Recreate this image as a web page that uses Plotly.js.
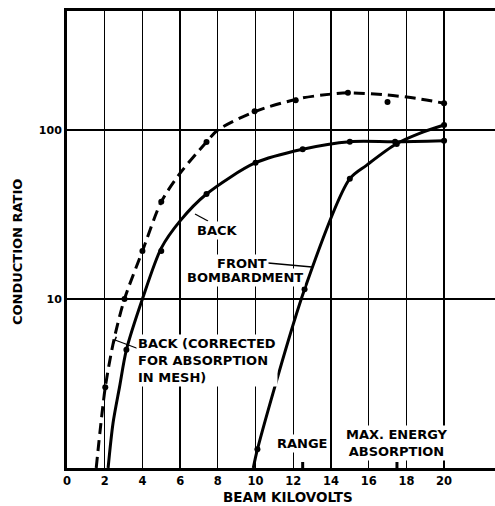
<!DOCTYPE html>
<html>
<head>
<meta charset="utf-8">
<script src="https://cdn.plot.ly/plotly-3.0.1.min.js"></script>
<style>html,body{margin:0;padding:0;background:#fff;}#chart{width:495px;height:506px;}</style>
</head>
<body>
<div id="chart"></div>
<script>
// ---- Data ----
// Back (corrected for absorption in mesh): dashed curve and measured points
const corrCurveKV    = [1.55, 2.03, 2.5, 3.05, 4.0, 5.0, 6.0, 7.4, 8.0, 10.0, 12.4, 14.0, 14.9, 17.0, 18.5, 20.0];
const corrCurveRatio = [1.0, 3.0, 5.8, 10, 19.2, 37.6, 55.5, 85, 100, 129, 154, 163, 166, 161, 154, 144];
const corrPointKV    = [2.03, 3.05, 4.0, 5.0, 7.4, 9.95, 12.13, 14.9, 17.0, 20.0];
const corrPointRatio = [3.0, 10, 19.2, 37.6, 85, 129, 150, 166, 146.5, 144];

// Back: solid curve and points
const backCurveKV    = [2.18, 2.44, 2.79, 3.15, 4.0, 5.0, 6.0, 7.4, 10.0, 12.5, 15.0, 17.4, 20.0];
const backCurveRatio = [1.0, 1.84, 3.03, 5.0, 10, 20.0, 29, 41.8, 64, 77, 85.3, 85.3, 86.5];
const backPointKV    = [3.15, 5.0, 7.4, 10.0, 12.5, 15.0, 17.4, 20.0];
const backPointRatio = [5.0, 19.2, 41.8, 64, 77, 85.3, 85.3, 86.5];

// Front bombardment: solid curve and points
const frontCurveKV    = [9.88, 10.1, 12.6, 15.0, 15.9, 17.45, 18.7, 20.0];
const frontCurveRatio = [1.0, 1.29, 11.4, 51.5, 62, 82.6, 95.6, 107];
const frontPointKV    = [10.1, 12.6, 15.0, 17.49, 20.0];
const frontPointRatio = [1.29, 11.4, 51.5, 82.6, 107];

// Axis ticks and markers on the kV axis (range, max. energy absorption)
const kvTicks = [0, 2, 4, 6, 8, 10, 12, 14, 16, 18, 20];
const ratioTicks = [10, 100];
const ratioTickText = ['10', '100'];
const axisMarkKV = [12.5, 17.5];

// ---- Layout helpers (pixel -> paper) ----
const L = 67, R = 0, T = 11, B = 38, W = 495, H = 506;
const PW = W - L - R, PH = H - T - B;
const px = v => (v - L) / PW;
const py = v => (H - B - v) / PH;

const FONT = 'DejaVu Sans';
const ink = '#000';

function curve(x, y, dash) {
  return {x: x, y: y, mode: 'lines', type: 'scatter', hoverinfo: 'skip',
    line: {color: ink, width: 3, shape: 'spline', smoothing: 0.8, dash: dash || 'solid'}};
}
function points(x, y) {
  return {x: x, y: y, mode: 'markers', type: 'scatter', hoverinfo: 'skip',
    marker: {color: ink, size: 6}};
}

const traces = [
  curve(corrCurveKV, corrCurveRatio, '11px,6px'),
  points(corrPointKV, corrPointRatio),
  curve(backCurveKV, backCurveRatio),
  points(backPointKV, backPointRatio),
  curve(frontCurveKV, frontCurveRatio),
  points(frontPointKV, frontPointRatio)
];

function label(text, x, y, opts) {
  return Object.assign({text: text, x: px(x), y: py(y), xref: 'paper', yref: 'paper',
    showarrow: false, font: {family: FONT, size: 13, color: ink, weight: 'bold'},
    bgcolor: '#fff', borderpad: 1, xanchor: 'center', yanchor: 'middle'}, opts || {});
}
function seg(x0, y0, x1, y1, w) {
  return {type: 'line', xref: 'paper', yref: 'paper', x0: px(x0), y0: py(y0), x1: px(x1), y1: py(y1),
    line: {color: ink, width: w || 1.3}};
}

const annotations = [
  label('BACK', 217, 231),
  label('FRONT', 242, 263),
  label('BOMBARDMENT', 245, 277.5),
  label('BACK (CORRECTED<br>FOR ABSORPTION<br>IN MESH)', 136, 360, {xanchor: 'left', align: 'left'}),
  label('RANGE', 302.5, 443),
  label('MAX. ENERGY<br>ABSORPTION', 397, 443),
  label('CONDUCTION RATIO', 17, 252, {textangle: -90, bgcolor: 'rgba(0,0,0,0)'}),
  label('BEAM KILOVOLTS', 288, 497, {bgcolor: 'rgba(0,0,0,0)', font: {family: FONT, size: 13.5, color: ink, weight: 'bold'}})
];

const shapes = [
  seg(195, 214, 208, 221),
  seg(268, 263, 312, 267),
  seg(115, 340, 147, 352),
  seg(116.3, 336.7, 113.7, 343.3, 1.6)
];
axisMarkKV.forEach(k => shapes.push({type: 'line', xref: 'x', yref: 'paper', x0: k, x1: k,
  y0: 0, y1: 6 / PH, line: {color: ink, width: 3}}));

const layout = {
  width: W, height: H,
  margin: {l: L, r: R, t: T, b: B, pad: 0},
  paper_bgcolor: '#fff', plot_bgcolor: '#fff',
  showlegend: false,
  font: {family: FONT, color: ink},
  xaxis: {
    range: [0, 22.7], tickvals: kvTicks, ticktext: kvTicks.map(String),
    showgrid: true, gridcolor: ink, gridwidth: 1.3, zeroline: false,
    showline: true, linecolor: ink, linewidth: 3, mirror: true, ticks: '',
    tickfont: {family: FONT, size: 11.5, color: ink, weight: 'bold'}
  },
  yaxis: {
    type: 'log', range: [0, 2.704], tickvals: ratioTicks, ticktext: ratioTickText,
    showgrid: true, gridcolor: ink, gridwidth: 1.3, zeroline: false,
    showline: true, linecolor: ink, linewidth: 3, mirror: false, ticks: '',
    tickfont: {family: FONT, size: 11, color: ink, weight: 'bold'}
  },
  annotations: annotations,
  shapes: shapes
};

Plotly.newPlot('chart', traces, layout, {staticPlot: true, displayModeBar: false});
</script>
</body>
</html>
